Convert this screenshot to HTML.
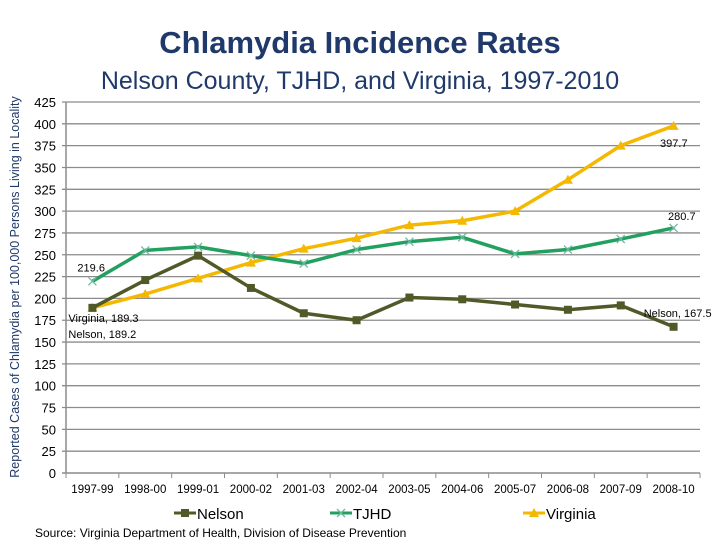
<!DOCTYPE html>
<html><head><meta charset="utf-8"><style>
body{margin:0;background:#fff;}
svg text{font-family:"Liberation Sans",Arial,sans-serif;}
</style></head><body>
<svg id="chart" width="720" height="540" viewBox="0 0 720 540">
<text x="360" y="53" text-anchor="middle" font-size="31" font-weight="bold" fill="#1f3a6a">Chlamydia Incidence Rates</text>
<text x="360" y="89" text-anchor="middle" font-size="25" fill="#1f3a6a">Nelson County, TJHD, and Virginia, 1997-2010</text>
<text transform="translate(19,287) rotate(-90)" text-anchor="middle" font-size="12.5" fill="#1f3a6a">Reported Cases of Chlamydia per 100,000 Persons Living in Locality</text>
<g id="grid"></g><g id="series"></g>
<text x="35" y="537" font-size="12" fill="#000">Source: Virginia Department of Health, Division of Disease Prevention</text>
</svg>
<script>
const categories=["1997-99","1998-00","1999-01","2000-02","2001-03","2002-04","2003-05","2004-06","2005-07","2006-08","2007-09","2008-10"];
const nelson=[189.2,221,249,212,183,175,201,199,193,187,192,167.5];
const tjhd=[219.6,255,259,249,240,256,265,270,251,256,268,280.7];
const virginia=[189.3,205,223,241,257,269,284,289,300,336,375,397.7];
const yTicks=[0,25,50,75,100,125,150,175,200,225,250,275,300,325,350,375,400,425];
const NS="http://www.w3.org/2000/svg";
const L=66,R=700,T=102,B=473,yMax=425;
const bw=(R-L)/categories.length;
const x=i=>L+bw*(i+0.5);
const y=v=>B-(v/yMax)*(B-T);
function mk(t,a,p){const e=document.createElementNS(NS,t);for(const k in a)e.setAttribute(k,a[k]);p.appendChild(e);return e;}
const g=document.getElementById('grid'),s=document.getElementById('series');
yTicks.forEach(v=>{
 const ln=mk('line',{x1:L-4,x2:R,y1:y(v),y2:y(v),stroke:'#8c8c8c','stroke-width':v===0?1.5:1.3},g);
 
 
 const t=mk('text',{x:L-10,y:y(v)+5,'text-anchor':'end','font-size':13,fill:'#000'},g);t.textContent=v;
 
 
});
const ax=mk('line',{x1:L,x2:L,y1:T,y2:B,stroke:'#8c8c8c','stroke-width':1.5},g);


categories.forEach((c,i)=>{
 mk('line',{x1:L+bw*i,x2:L+bw*i,y1:B,y2:B+5,stroke:'#8c8c8c'},g);
 const t=mk('text',{x:x(i),y:B+20,'text-anchor':'middle','font-size':11.5,fill:'#000'},g);t.textContent=c;
 
 
});
mk('line',{x1:R,x2:R,y1:B,y2:B+5,stroke:'#8c8c8c'},g);
function marker(type,cx,cy,col,p){
 if(type==='sq')mk('rect',{x:cx-4,y:cy-4,width:8,height:8,fill:col},p);
 else if(type==='x'){mk('path',{d:`M${cx-4} ${cy-4}L${cx+4} ${cy+4}M${cx-4} ${cy+4}L${cx+4} ${cy-4}`,stroke:col,'stroke-width':1.3,fill:'none'},p);}
 else mk('path',{d:`M${cx} ${cy-5}L${cx+5} ${cy+4}L${cx-5} ${cy+4}Z`,fill:col},p);
}
function draw(data,col,type,name){
 const grp=mk('g',{},s);
 
 
 mk('polyline',{points:data.map((v,i)=>x(i)+','+y(v)).join(' '),fill:'none',stroke:col,'stroke-width':3.5,'stroke-linejoin':'round'},grp);
 data.forEach((v,i)=>marker(type,x(i),y(v),type==='x'?'#6fb8a0':col,grp));
}
draw(virginia,'#f5b800','tri','virginia');
draw(tjhd,'#22a060','x','tjhd');
draw(nelson,'#4f5a28','sq','nelson');
function lab(txt,xx,yy,anchor,name){const t=mk('text',{x:xx,y:yy,'font-size':11,'text-anchor':anchor,fill:'#000'},s);t.textContent=txt;
 
 }
lab(tjhd[0],x(0)-15,y(tjhd[0])-10,'start','tjhd-start-label');
lab('Virginia, '+virginia[0],x(0)-24,y(virginia[0])+14,'start','virginia-start-label');
lab('Nelson, '+nelson[0],x(0)-24,y(nelson[0])+30,'start','nelson-start-label');
lab(virginia[11],x(11)+14,y(virginia[11])+21,'end','virginia-end-label');
lab(tjhd[11],x(11)+22,y(tjhd[11])-8,'end','tjhd-end-label');
lab('Nelson, '+nelson[11],x(11)+38,y(nelson[11])-10,'end','nelson-end-label');
const leg=[['Nelson','#4f5a28','sq',174],['TJHD','#22a060','x',330],['Virginia','#f5b800','tri',523]];
leg.forEach(([n,c,t,lx])=>{
 const lg=mk('g',{},s);
 
 
 mk('line',{x1:lx,x2:lx+22,y1:513,y2:513,stroke:c,'stroke-width':3},lg);
 marker(t,lx+11,513,t==='x'?'#6fb8a0':c,lg);
 const tx=mk('text',{x:lx+23,y:519,'font-size':15,fill:'#000'},lg);tx.textContent=n;
});
</script>
</body></html>
